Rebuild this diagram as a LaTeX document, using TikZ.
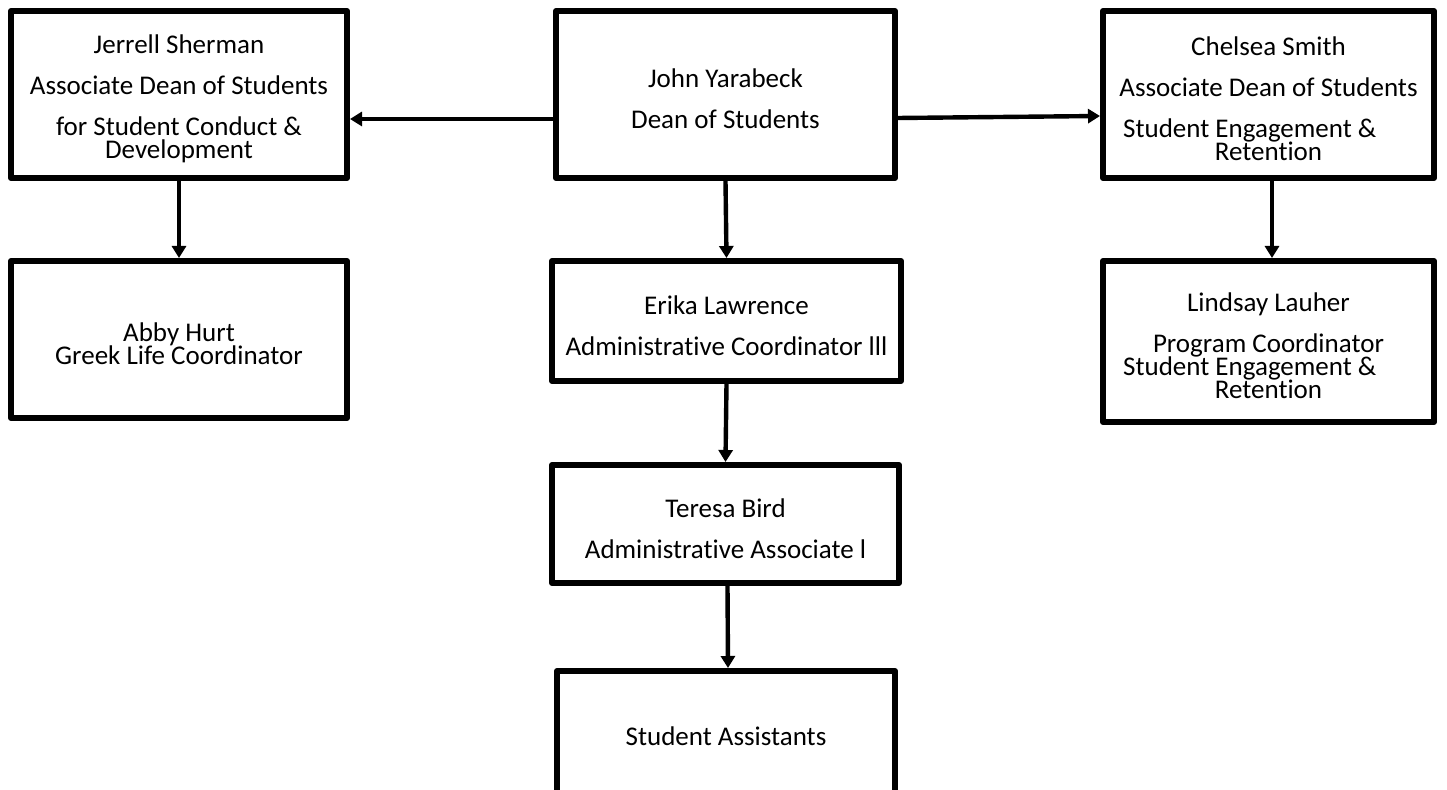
\documentclass[tikz,border=0pt]{standalone}
\usepackage{fontspec}
\setmainfont{Carlito}[Ligatures=NoCommon]
\usepackage{tikz}
\usetikzlibrary{arrows.meta}
\newcommand{\topstrut}{\rule{0pt}{14pt}}

\begin{document}
\begin{tikzpicture}[x=0.5pt, y=-0.5pt,
	orgbox/.style={draw, line width=3pt, line join=round, align=center, inner sep=0pt,
		font=\fontsize{13.5}{20.5}\selectfont},
	arr/.style={line width=2.2pt, -{Triangle[length=6pt, width=7pt]}}]
	\useasboundingbox (0,0) rectangle (1447,790);
	% top row
	\node[orgbox, minimum width=168pt, minimum height=83.5pt] (jerrell) at (179,94.5)
		{\topstrut Jerrell Sherman\\Associate Dean of Students\\for Student Conduct \&\\[-9pt]Development};
	\node[orgbox, minimum width=169.5pt, minimum height=83.5pt] (john) at (725.5,94.5)
		{\topstrut John Yarabeck\\Dean of Students};
	\node[orgbox, minimum width=165.5pt, minimum height=83.5pt] (chelsea) at (1268.5,94.5)
		{\topstrut Chelsea Smith\\Associate Dean of Students\\Student Engagement \&\hphantom{Xxx}\\[-9pt]Retention};
	% second row
	\node[orgbox, minimum width=168pt, minimum height=78.5pt] (abby) at (179,339.5)
		{\topstrut Abby Hurt\\[-9pt]Greek Life Coordinator};
	\node[orgbox, minimum width=174.5pt, minimum height=60pt] (erika) at (726.5,321)
		{\topstrut Erika Lawrence\\Administrative Coordinator lll};
	\node[orgbox, minimum width=165.5pt, minimum height=80.5pt] (lindsay) at (1268.5,341.5)
		{\topstrut Lindsay Lauher\\Program Coordinator\\[-9pt]Student Engagement \&\hphantom{Xxx}\\[-9pt]Retention};
	% lower boxes
	\node[orgbox, minimum width=173.5pt, minimum height=59pt] (teresa) at (725.5,524)
		{\topstrut Teresa Bird\\Administrative Associate l};
	\node[orgbox, minimum width=169pt, minimum height=61pt] (students) at (726,732)
		{\topstrut Student Assistants};
	% arrows
	\draw[arr] ([yshift=-12.25pt]john.west) -- ([yshift=-12.25pt]jerrell.east);
	\draw[arr] ([yshift=-11.75pt]john.east) -- ([yshift=-10.75pt]chelsea.west);
	\draw[arr] (jerrell.south) -- (abby.north);
	\draw[arr] (john.south) -- (erika.north);
	\draw[arr] ([xshift=1.75pt]chelsea.south) -- ([xshift=1.75pt]lindsay.north);
	\draw[arr] (erika.south) -- (teresa.north);
	\draw[arr] ([xshift=1pt]teresa.south) -- ([xshift=1pt]students.north);
\end{tikzpicture}
\end{document}
